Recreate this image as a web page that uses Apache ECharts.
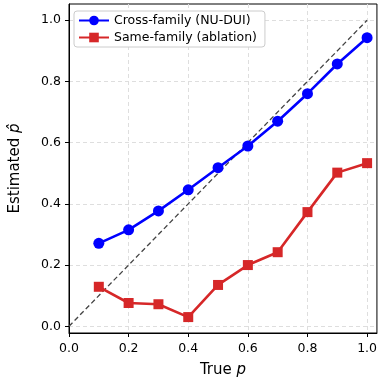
<!DOCTYPE html>
<html>
<head>
<meta charset="utf-8">
<script src="https://cdn.jsdelivr.net/npm/echarts@6/dist/echarts.min.js"></script>
<style>
  html, body { margin: 0; padding: 0; background: #fff; }
  #chart { width: 380px; height: 384px; }
</style>
</head>
<body>
<div id="chart"></div>
<script>
var trueP = [0.1, 0.2, 0.3, 0.4, 0.5, 0.6, 0.7, 0.8, 0.9, 1.0];
var crossFamily = [0.271, 0.315, 0.377, 0.446, 0.518, 0.589, 0.670, 0.760, 0.857, 0.943];
var sameFamily = [0.129, 0.076, 0.072, 0.030, 0.135, 0.200, 0.242, 0.373, 0.502, 0.533];
var tickValues = [0, 0.2, 0.4, 0.6, 0.8, 1.0];

var font = 'DejaVu Sans';
function pairs(xs, ys) {
    return xs.map(function (x, i) { return [x, ys[i]]; });
}
var gridLine = { show: true, lineStyle: { color: '#dedede', type: [4, 3], width: 1 } };

var chart = echarts.init(document.getElementById('chart'), null, { renderer: 'canvas' });
chart.setOption({
    animation: false,
    backgroundColor: '#fff',
    grid: {
        left: 68, right: 2, top: 4, bottom: 51,
        show: true, borderColor: '#000', borderWidth: 1, backgroundColor: 'transparent'
    },
    legend: {
        data: ['Cross-family (NU-DUI)', 'Same-family (ablation)'],
        left: 74, top: 11, orient: 'vertical',
        itemWidth: 30, itemHeight: 12, itemGap: 4,
        padding: [3, 8, 3, 4],
        backgroundColor: '#fff', borderColor: '#cccccc', borderWidth: 1, borderRadius: 3,
        textStyle: { fontFamily: font, fontSize: 12.5, color: '#000' }
    },
    xAxis: {
        type: 'value', min: 0, max: 1.033,
        name: 'True {i|p}', nameLocation: 'middle', nameGap: 30,
        nameTextStyle: { fontFamily: font, fontSize: 15, color: '#000',
            rich: { i: { fontFamily: font, fontStyle: 'italic', fontSize: 15 } } },
        axisLine: { show: true, onZero: false, lineStyle: { color: '#000' } },
        axisTick: { show: true, length: 4, lineStyle: { color: '#000' }, customValues: tickValues },
        axisLabel: { fontFamily: font, fontSize: 12.5, color: '#000', margin: 9,
            customValues: tickValues, formatter: function (v) { return v.toFixed(1); } },
        splitLine: gridLine
    },
    yAxis: {
        type: 'value', min: -0.022, max: 1.053,
        name: 'Estimated {i|p\u0302}', nameLocation: 'middle', nameGap: 46, nameRotate: 90,
        nameTextStyle: { fontFamily: font, fontSize: 15, color: '#000',
            rich: { i: { fontFamily: font, fontStyle: 'italic', fontSize: 15 } } },
        axisLine: { show: true, onZero: false, lineStyle: { color: '#000' } },
        axisTick: { show: true, length: 4, lineStyle: { color: '#000' }, customValues: tickValues },
        axisLabel: { fontFamily: font, fontSize: 12.5, color: '#000', margin: 8,
            customValues: tickValues, formatter: function (v) { return v.toFixed(1); } },
        splitLine: gridLine
    },
    series: [
        {
            name: 'diag', type: 'line', data: [[0, 0], [1, 1]],
            symbol: 'none', silent: true, z: 1,
            lineStyle: { color: '#444', width: 1.3, type: [5, 3] }
        },
        {
            name: 'Cross-family (NU-DUI)', type: 'line', data: pairs(trueP, crossFamily),
            symbol: 'circle', symbolSize: 11, z: 3,
            itemStyle: { color: '#0000ff' },
            lineStyle: { color: '#0000ff', width: 2.6 }
        },
        {
            name: 'Same-family (ablation)', type: 'line', data: pairs(trueP, sameFamily),
            symbol: 'rect', symbolSize: 10, z: 3,
            itemStyle: { color: '#d62728' },
            lineStyle: { color: '#d62728', width: 2.6 }
        }
    ]
});
</script>
</body>
</html>
